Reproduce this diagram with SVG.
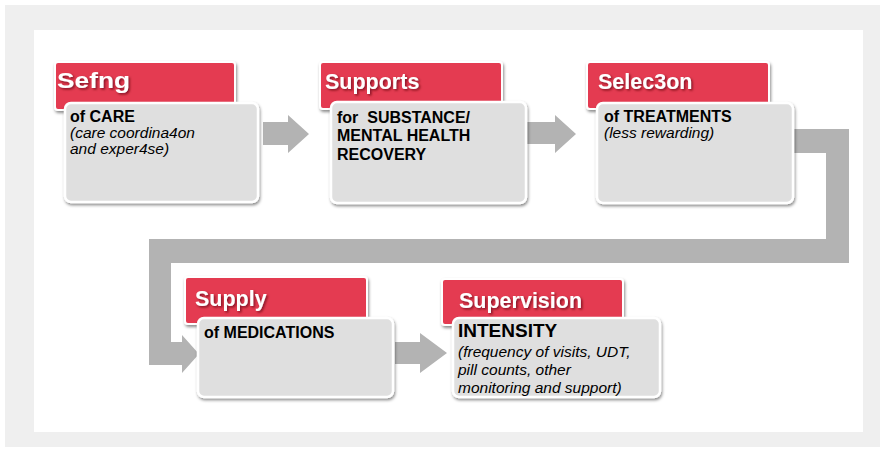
<svg xmlns="http://www.w3.org/2000/svg" width="885" height="452" viewBox="0 0 885 452">
<defs>
<filter id="sh" x="-10%" y="-10%" width="125%" height="130%">
<feDropShadow dx="1" dy="2" stdDeviation="1.8" flood-color="#000" flood-opacity="0.45"/>
</filter>
<filter id="tsh" x="-10%" y="-20%" width="130%" height="150%">
<feDropShadow dx="1.5" dy="1.5" stdDeviation="1" flood-color="#5a0010" flood-opacity="0.7"/>
</filter>
</defs>
<style>
.hdr{fill:#e43b51;stroke:#ffffff;stroke-width:2;filter:url(#sh)}
.box{fill:#dfdfdf;stroke:#ffffff;stroke-width:2.5;filter:url(#sh)}
.ht{font-family:"Liberation Sans",Arial,sans-serif;font-weight:bold;font-size:21.5px;fill:#ffffff;filter:url(#tsh)}
.bt{font-family:"Liberation Sans",Arial,sans-serif;font-weight:bold;font-size:16px;fill:#000000}
.it{font-family:"Liberation Sans",Arial,sans-serif;font-style:italic;font-size:15.5px;fill:#000000}
.arr{fill:#b3b3b3}
</style>
<rect x="5" y="5" width="875" height="442" fill="#efefef"/>
<rect x="34" y="30" width="829" height="402" fill="#ffffff"/>
<g id="connectors">
<polygon class="arr" points="263,122 288,122 288,115 309,134 288,153 288,145 263,145"/>
<polygon class="arr" points="527,122 555,122 555,115 576,134 555,153 555,144 527,144"/>
<polygon class="arr" points="793,129 849,129 849,263 171,263 171,342 182,342 182,335 199,354 182,373 182,365 149,365 149,239 826,239 826,153 793,153"/>
<polygon class="arr" points="395,342 420,342 420,333 447,353 420,373 420,364 395,364"/>
</g>
<g id="node-setting">
<rect class="hdr" x="55" y="62" width="180" height="48" rx="3"/>
<rect class="box" x="65" y="103" width="193" height="99" rx="6"/>
<text class="ht" x="57" y="88" textLength="73" lengthAdjust="spacingAndGlyphs">Sefng</text>
<text class="bt" x="70" y="122">of CARE</text>
<text class="it" x="70" y="138">(care coordina4on</text>
<text class="it" x="70" y="154">and exper4se)</text>
</g>
<g id="node-supports">
<rect class="hdr" x="320" y="62" width="182" height="47" rx="3"/>
<rect class="box" x="331" y="102" width="195" height="101" rx="6"/>
<text class="ht" x="325" y="89">Supports</text>
<text class="bt" x="337" y="123" xml:space="preserve">for  SUBSTANCE/</text>
<text class="bt" x="337" y="141">MENTAL HEALTH</text>
<text class="bt" x="337" y="160">RECOVERY</text>
</g>
<g id="node-selection">
<rect class="hdr" x="587" y="62" width="182" height="47" rx="3"/>
<rect class="box" x="597" y="103" width="196" height="100" rx="6"/>
<text class="ht" x="598" y="89">Selec3on</text>
<text class="bt" x="604" y="122">of TREATMENTS</text>
<text class="it" x="604" y="138">(less rewarding)</text>
</g>
<g id="node-supply">
<rect class="hdr" x="185" y="277" width="182" height="47" rx="3"/>
<rect class="box" x="198" y="318" width="195" height="79" rx="6"/>
<text class="ht" x="195" y="306">Supply</text>
<text class="bt" x="204" y="338">of MEDICATIONS</text>
</g>
<g id="node-supervision">
<rect class="hdr" x="442" y="279" width="181" height="46" rx="3"/>
<rect class="box" x="453" y="318" width="207" height="79" rx="6"/>
<text class="ht" x="459" y="308">Supervision</text>
<text class="bt" x="458" y="337" style="font-size:19px">INTENSITY</text>
<text class="it" x="458" y="357">(frequency of visits, UDT,</text>
<text class="it" x="458" y="375">pill counts, other</text>
<text class="it" x="458" y="393">monitoring and support)</text>
</g>
</svg>
